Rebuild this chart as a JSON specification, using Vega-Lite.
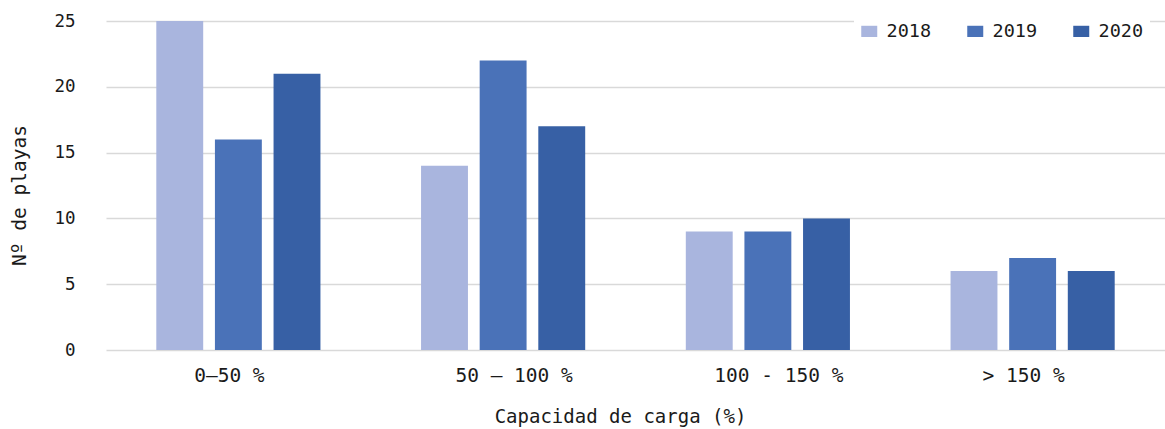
{
  "$schema": "https://vega.github.io/schema/vega-lite/v6.json",
  "autosize": {"type": "none"},
  "padding": {"left": 106, "top": 21, "right": 0, "bottom": 79},
  "width": 1059,
  "height": 329,
  "background": "white",
  "config": {
    "view": {"stroke": null},
    "font": "DejaVu Sans Mono",
    "axis": {"labelFont": "DejaVu Sans Mono", "titleFont": "DejaVu Sans Mono", "labelColor": "#1a1a1a", "titleColor": "#1a1a1a", "titleFontWeight": "normal"},
    "legend": {"labelFont": "DejaVu Sans Mono"}
  },
  "data": {
    "values": [
      {"cat": "0–50 %", "year": "2018", "n": 25},
      {"cat": "0–50 %", "year": "2019", "n": 16},
      {"cat": "0–50 %", "year": "2020", "n": 21},
      {"cat": "50 – 100 %", "year": "2018", "n": 14},
      {"cat": "50 – 100 %", "year": "2019", "n": 22},
      {"cat": "50 – 100 %", "year": "2020", "n": 17},
      {"cat": "100 - 150 %", "year": "2018", "n": 9},
      {"cat": "100 - 150 %", "year": "2019", "n": 9},
      {"cat": "100 - 150 %", "year": "2020", "n": 10},
      {"cat": "> 150 %", "year": "2018", "n": 6},
      {"cat": "> 150 %", "year": "2019", "n": 7},
      {"cat": "> 150 %", "year": "2020", "n": 6}
    ]
  },
  "mark": {"type": "bar"},
  "encoding": {
    "x": {
      "field": "cat", "type": "nominal", "sort": null,
      "scale": {"paddingInner": 0.38, "paddingOuter": 0.19},
      "axis": {
        "title": "Capacidad de carga (%)", "labelAngle": 0, "ticks": false, "domain": false,
        "labelFontSize": 19.5, "titleFontSize": 19, "labelPadding": 16, "titlePadding": 23,
        "titleX": 514,
        "labelOffset": {"condition": {"test": "datum.value == '0–50 %' || datum.value == '> 150 %'", "value": -9}, "value": 11}
      }
    },
    "xOffset": {"field": "year", "type": "nominal", "scale": {"paddingInner": 0.2, "paddingOuter": 0}},
    "y": {
      "field": "n", "type": "quantitative",
      "scale": {"domain": [0, 25], "nice": false},
      "axis": {"title": "Nº de playas", "values": [0, 5, 10, 15, 20, 25], "ticks": false, "domain": false, "gridColor": "#d9d9d9", "gridWidth": 1.5, "labelFontSize": 17.5, "titleFontSize": 19.5, "labelPadding": 31, "titlePadding": 24, "titleY": 174}
    },
    "color": {
      "field": "year", "type": "nominal",
      "scale": {"domain": ["2018", "2019", "2020"], "range": ["#a9b5de", "#4a72b8", "#3760a5"]},
      "legend": {
        "title": null, "orient": "none", "direction": "horizontal",
        "legendX": 748, "legendY": -5,
        "fillColor": "white", "padding": 6,
        "symbolType": "M-1,-0.7H1V0.7H-1Z", "symbolSize": 256, "symbolStrokeWidth": 0,
        "labelFontSize": 18.5, "labelColor": "#1a1a1a", "labelOffset": 8, "columnPadding": 34
      }
    }
  }
}
